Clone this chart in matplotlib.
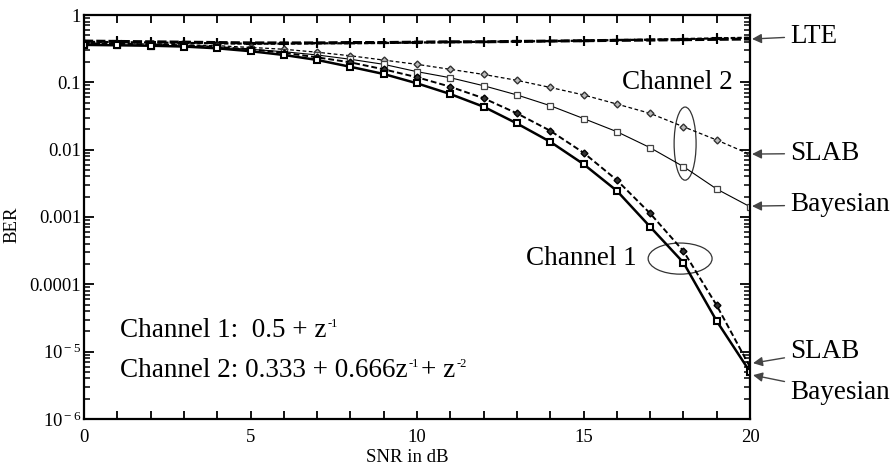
import matplotlib
matplotlib.use('Agg')
from matplotlib import pyplot as plt
from matplotlib.patches import Ellipse
from matplotlib.offsetbox import TextArea, HPacker, AnnotationBbox
from matplotlib.ticker import FixedLocator, FixedFormatter, LogLocator, NullFormatter

plt.rcParams['font.family'] = ['Liberation Serif', 'DejaVu Serif']
plt.rcParams['mathtext.fontset'] = 'custom'
plt.rcParams['mathtext.rm'] = 'Liberation Serif'
plt.rcParams['mathtext.it'] = 'Liberation Serif:italic'

snr = list(range(0, 21))

lte_1 = [0.41, 0.405, 0.40, 0.395, 0.39, 0.385, 0.385, 0.385, 0.39, 0.39, 0.395,
         0.40, 0.40, 0.405, 0.41, 0.415, 0.42, 0.425, 0.43, 0.435, 0.44]
lte_2 = [0.40, 0.395, 0.39, 0.385, 0.38, 0.375, 0.375, 0.38, 0.38, 0.385, 0.39,
         0.395, 0.40, 0.405, 0.41, 0.415, 0.425, 0.43, 0.44, 0.45, 0.46]

ch1_bayes = [0.36, 0.355, 0.35, 0.34, 0.32, 0.29, 0.255, 0.215, 0.17, 0.133, 0.0966,
             0.067, 0.0434, 0.0245, 0.0131, 0.0061, 0.00245, 0.000715, 0.00021, 2.84e-5, 5.0e-6]
ch1_slab = [0.38, 0.375, 0.365, 0.355, 0.335, 0.31, 0.275, 0.235, 0.198, 0.156, 0.119,
            0.086, 0.058, 0.0346, 0.0191, 0.009, 0.00353, 0.00113, 0.000311, 4.85e-5, 5.9e-6]
ch2_bayes = [0.36, 0.355, 0.35, 0.345, 0.33, 0.31, 0.285, 0.255, 0.22, 0.185, 0.144,
             0.117, 0.089, 0.065, 0.045, 0.029, 0.0185, 0.0107, 0.0056, 0.0026, 0.00142]
ch2_slab = [0.38, 0.375, 0.37, 0.36, 0.35, 0.33, 0.31, 0.28, 0.248, 0.214, 0.185,
            0.156, 0.131, 0.107, 0.084, 0.065, 0.0476, 0.0346, 0.0219, 0.0139, 0.0085]

ytick_vals = [1e-6, 1e-5, 1e-4, 1e-3, 1e-2, 1e-1, 1]
ytick_labels = [r'10$^{\rm -6}$', r'10$^{\rm -5}$', '0.0001', '0.001', '0.01', '0.1', '1']

fig = plt.figure(figsize=(8.91, 4.66), dpi=100)
ax = fig.add_axes([0.0943, 0.1009, 0.7475, 0.8669])

ax.plot(snr, lte_1, color='black', ls=(0, (3, 1)), lw=2.2, marker='+', ms=7, mew=1.5)
ax.plot(snr, lte_2, color='black', ls=(0, (2, 1)), lw=1.6, marker='+', ms=7, mew=1.5)
ax.plot(snr, ch2_slab, color='black', ls=(0, (3, 2)), lw=0.9, marker='D', ms=3.5,
        mfc='#bbbbbb', mec='#333333', mew=1.0)
ax.plot(snr, ch2_bayes, color='black', ls='-', lw=0.8, marker='s', ms=4.5,
        mfc='white', mec='#444444', mew=0.9)
ax.plot(snr, ch1_slab, color='black', ls=(0, (3, 1.5)), lw=1.4, marker='D', ms=3.5,
        mfc='#333333', mec='black', mew=1.0)
ax.plot(snr, ch1_bayes, color='black', ls='-', lw=1.8, marker='s', ms=4.5,
        mfc='white', mec='black', mew=1.5)

ax.set_yscale('log')
ax.set_xlim(0, 20)
ax.set_ylim(1e-6, 1)

ax.xaxis.set_major_locator(FixedLocator(list(range(0, 21))))
ax.xaxis.set_major_formatter(FixedFormatter([str(v) if v % 5 == 0 else '' for v in range(0, 21)]))
ax.yaxis.set_major_locator(FixedLocator(ytick_vals))
ax.yaxis.set_major_formatter(FixedFormatter(ytick_labels))
ax.yaxis.set_minor_locator(LogLocator(base=10, subs=[2, 3, 4, 5, 6, 7, 8, 9]))
ax.yaxis.set_minor_formatter(NullFormatter())

ax.tick_params(axis='both', which='both', direction='in', top=True, right=True,
               labelsize=13.5, width=1.3)
ax.tick_params(axis='x', which='major', length=6, pad=7)
ax.tick_params(axis='y', which='major', length=7, pad=2)
ax.tick_params(axis='y', which='minor', length=4, width=1.1)
for s in ax.spines.values():
    s.set_linewidth(1.6)

ax.set_xlabel('SNR in dB', fontsize=13.5)
ax.set_ylabel('BER', fontsize=13.5)
ax.xaxis.set_label_coords(0.485, -0.074)
ax.yaxis.set_label_coords(-0.095, 0.48)


def axes_frac(x, y):
    return ax.transAxes.inverted().transform(ax.transData.transform((x, y)))


ax.add_patch(Ellipse(axes_frac(18.05, 0.0123), 0.033, 0.181, transform=ax.transAxes,
                     fill=False, ec='#333333', lw=0.9))
ax.add_patch(Ellipse(axes_frac(17.9, 2.41e-4), 0.096, 0.077, transform=ax.transAxes,
                     fill=False, ec='#333333', lw=0.9))

big = 19.5
small = 9
ax.text(17.82, 0.101, 'Channel 2', fontsize=big, ha='center', va='center')
ax.text(16.6, 2.45e-4, 'Channel 1', fontsize=big, ha='right', va='center')


def formula(parts, x, y):
    # parts: (text, is_superscript)
    boxes = [TextArea(t, textprops=dict(fontsize=small if sup else big)) for t, sup in parts]
    pack = HPacker(children=boxes, align='top', pad=0, sep=1)
    ab = AnnotationBbox(pack, (x, y), xycoords='data', box_alignment=(0, 0.5),
                        frameon=False, pad=0)
    ax.add_artist(ab)


formula([('Channel 1:  0.5 + z', False), ('-1', True)], 1.08, 2.09e-5)
formula([('Channel 2: 0.333 + 0.666z', False), ('-1', True), ('+ z', False), ('-2', True)],
        1.08, 5.3e-6)

arrow = dict(arrowstyle='-|>', color='#444444', lw=1.0, mutation_scale=14, shrinkA=2, shrinkB=0)
labels = [('LTE', (20.06, 0.44), (21.2, 0.487)),
          ('SLAB', (20.06, 0.0086), (21.2, 0.0088)),
          ('Bayesian', (20.06, 0.00145), (21.2, 0.00152)),
          ('SLAB', (20.09, 6.75e-6), (21.2, 1.02e-5)),
          ('Bayesian', (20.09, 4.48e-6), (21.2, 2.45e-6))]
for txt, tip, pos in labels:
    ax.annotate(txt, xy=tip, xytext=pos, fontsize=big, ha='left', va='center',
                arrowprops=arrow, annotation_clip=False)

fig.savefig('out.png', dpi=100)
